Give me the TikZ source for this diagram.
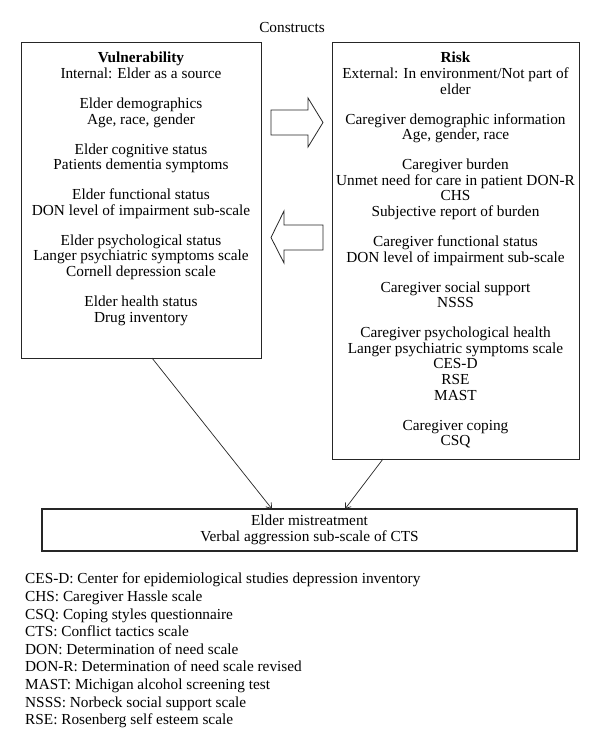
\documentclass[tikz,border=0pt]{standalone}
\usepackage{fontspec}
\setmainfont{Liberation Serif}
\usetikzlibrary{arrows.meta}
\begin{document}
\begin{tikzpicture}[x=1pt,y=-1pt,
  box/.style={draw=black!85, line width=1.1pt, inner sep=0pt},
  txt/.style={align=center, inner sep=0pt, font=\fontsize{15.3}{15.6}\selectfont},
  blockarrow/.style={draw=black!85, line width=0.8pt, fill=white, line join=miter},
  conn/.style={draw=black!85, line width=0.7pt, -{Straight Barb[length=5pt,width=7pt]}},
]
\useasboundingbox (0,0) rectangle (600,750);
\node[txt] (C) at (292,28) {Constructs};
% left box
\node[box, minimum width=240pt, minimum height=316pt, anchor=north west] (L) at (21,42) {};
\node[txt, anchor=north] (Lt) at (141,52) {\textbf{Vulnerability}\\
Internal: Elder as a source\\[14.4pt]
Elder demographics\\
Age, race, gender\\[14.4pt]
Elder cognitive status\\
Patients dementia symptoms\\[14.4pt]
Elder functional status\\
DON level of impairment sub-scale\\[14.4pt]
Elder psychological status\\
Langer psychiatric symptoms scale\\
Cornell depression scale\\[14.4pt]
Elder health status\\
Drug inventory};
% right box
\node[box, minimum width=247pt, minimum height=417pt, anchor=north west] (R) at (332,42) {};
\node[txt, anchor=north] (Rt) at (455.5,52) {\textbf{Risk}\\
External: In environment/Not part of\\
elder\\[14.4pt]
Caregiver demographic information\\
Age, gender, race\\[14.4pt]
Caregiver burden\\
Unmet need for care in patient DON-R\\
CHS\\
Subjective report of burden\\[14.4pt]
Caregiver functional status\\
DON level of impairment sub-scale\\[14.4pt]
Caregiver social support\\
NSSS\\[14.4pt]
Caregiver psychological health\\
Langer psychiatric symptoms scale\\
CES-D\\
RSE\\
MAST\\[14.4pt]
Caregiver coping\\
CSQ};
% block arrows
\draw[blockarrow] (271,110) -- (308,110) -- (308,98) -- (323,122.5) -- (308,147) -- (308,135) -- (271,135) -- cycle;
\draw[blockarrow] (323,225) -- (284,225) -- (284,211) -- (271,237.5) -- (284,263) -- (284,250) -- (323,250) -- cycle;
% bottom box
\node[box, txt, minimum width=535pt, minimum height=42pt] (B) at (309.5,530) {Elder mistreatment\\Verbal aggression sub-scale of CTS};
% connectors
\coordinate (ls) at (152,358);
\coordinate (le) at (272,509);
\coordinate (rs) at (383,459);
\coordinate (re) at (345,509);
\draw[conn] (ls) -- (le);
\draw[conn] (rs) -- (re);
% legend
\node[anchor=north west, align=left, inner sep=0pt, font=\fontsize{15.3}{17.6}\selectfont] (leg) at (25,573) {CES-D: Center for epidemiological studies depression inventory\\
CHS: Caregiver Hassle scale\\
CSQ: Coping styles questionnaire\\
CTS: Conflict tactics scale\\
DON: Determination of need scale\\
DON-R: Determination of need scale revised\\
MAST: Michigan alcohol screening test\\
NSSS: Norbeck social support scale\\
RSE: Rosenberg self esteem scale};
\end{tikzpicture}
\end{document}
